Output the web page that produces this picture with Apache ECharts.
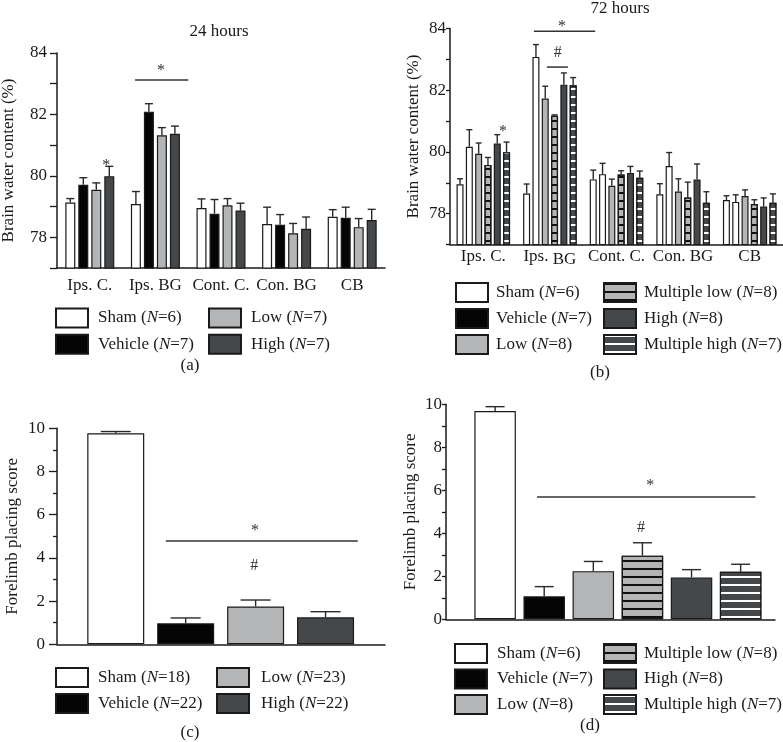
<!DOCTYPE html>
<html>
<head>
<meta charset="utf-8">
<script src="https://cdn.jsdelivr.net/npm/echarts@6/dist/echarts.min.js"></script>
<style>
html, body { margin: 0; padding: 0; background: #fff; }
#main { width: 783px; height: 742px; }
</style>
</head>
<body>
<div id="main"></div>
<script>
'use strict';
var FONT = '"Liberation Serif", serif';
var INK = '#1a1a1a';

// categories
var regions = ['Ips. C.', 'Ips. BG', 'Cont. C.', 'Con. BG', 'CB'];
var names24 = ['Sham (N=6)', 'Vehicle (N=7)', 'Low (N=7)', 'High (N=7)'];
var names72 = ['Sham (N=6)', 'Vehicle (N=7)', 'Low (N=8)', 'Multiple low (N=8)', 'High (N=8)', 'Multiple high (N=7)'];
var namesC = ['Sham (N=18)', 'Vehicle (N=22)', 'Low (N=23)', 'High (N=22)'];
var namesD = ['Sham (N=6)', 'Vehicle (N=7)', 'Low (N=8)', 'Multiple low (N=8)', 'High (N=8)', 'Multiple high (N=7)'];

// (a) brain water content, 24 hours (%)
var water24Sham    = [79.13, 79.08, 78.95, 78.43, 78.67];
var water24Vehicle = [79.71, 82.09, 78.77, 78.41, 78.64];
var water24Low     = [79.55, 81.32, 79.04, 78.13, 78.33];
var water24High    = [79.99, 81.37, 78.87, 78.28, 78.56];
var sem24Sham    = [0.13, 0.41, 0.30, 0.55, 0.23];
var sem24Vehicle = [0.23, 0.26, 0.46, 0.33, 0.34];
var sem24Low     = [0.22, 0.25, 0.22, 0.32, 0.28];
var sem24High    = [0.32, 0.25, 0.24, 0.38, 0.35];

// (b) brain water content, 72 hours (%)
var water72Sham      = [78.95, 78.65, 79.11, 78.63, 78.44];
var water72Vehicle   = [80.17, 83.08, 79.28, 79.54, 78.38];
var water72Low       = [79.94, 81.73, 78.90, 78.72, 78.57];
var water72MultiLow  = [79.58, 81.17, 79.27, 78.52, 78.31];
var water72High      = [80.27, 82.18, 79.32, 79.11, 78.23];
var water72MultiHigh = [79.99, 82.16, 79.16, 78.35, 78.35];
var sem72Sham      = [0.18, 0.31, 0.30, 0.34, 0.14];
var sem72Vehicle   = [0.55, 0.40, 0.35, 0.44, 0.23];
var sem72Low       = [0.35, 0.40, 0.22, 0.41, 0.20];
var sem72MultiLow  = [0.24, 0.03, 0.12, 0.50, 0.14];
var sem72High      = [0.29, 0.38, 0.21, 0.50, 0.28];
var sem72MultiHigh = [0.33, 0.25, 0.22, 0.36, 0.29];

// (c) and (d) forelimb placing score
var scoreC = [9.77, 0.97, 1.75, 1.25];
var semC   = [0.08, 0.25, 0.30, 0.26];
var scoreD = [9.69, 1.07, 2.24, 2.96, 1.95, 2.21];
var semD   = [0.20, 0.45, 0.45, 0.60, 0.36, 0.35];

// significance lines [from, to, y] and marks [x, y]
var sigLines24 = [[0.69, 1.50, 83.12]];
var sigMarks24 = [[1.085, 83.51], [0.25, 80.44]];
var sigText24  = ['*', '*'];
var sigLines72 = [[0.76, 1.68, 83.91], [0.955, 1.27, 82.75]];
var sigMarks72 = [[1.18, 84.16], [1.117, 83.2], [0.296, 80.75]];
var sigText72  = ['*', '#', '*'];
var sigLinesC = [[1.717, 4.46, 4.78]];
var sigMarksC = [[2.99, 5.4], [2.98, 3.62]];
var sigTextC  = ['*', '#'];
var sigLinesD = [[1.855, 6.30, 5.69]];
var sigMarksD = [[4.16, 6.33], [3.97, 4.25]];
var sigTextD  = ['*', '#'];

var myChart = echarts.init(document.getElementById('main'));

var GRAY = '#b4b5b7', DARK = '#45484a';
var fills = {
    white: { color: '#ffffff' },
    black: { color: '#050505' },
    gray: { color: GRAY },
    dark: { color: DARK },
    grayLined: { color: GRAY, decal: { symbol: 'rect', symbolSize: 1, dashArrayX: [1, 0], dashArrayY: [1.4, 5.3], color: '#111111' } },
    darkLined: { color: DARK, decal: { symbol: 'rect', symbolSize: 1, dashArrayX: [1, 0], dashArrayY: [1.4, 5.3], color: '#ffffff' } }
};
function barStyle(key) {
    var s = { borderColor: INK, borderWidth: 1.2 };
    for (var k in fills[key]) s[k] = fills[key][k];
    return s;
}

function errRows(vals, sems, slot, startX) {
    return vals.map(function (v, i) {
        return [i + startX, v, +(v + sems[i]).toFixed(2), slot];
    });
}

// error bars, up only, with a cap
function errorSeries(idx, step, n, cap, rows) {
    return {
        type: 'custom', xAxisIndex: idx, yAxisIndex: idx, silent: true, z: 4,
        encode: { x: 0, y: [1, 2] },
        data: rows,
        renderItem: function (params, api) {
            var b = api.coord([api.value(0), api.value(1)]);
            var t = api.coord([api.value(0), api.value(2)]);
            var x = b[0] + (api.value(3) - (n - 1) / 2) * step;
            var st = { stroke: '#2a2a2a', lineWidth: 1.4 };
            return {
                type: 'group', children: [
                    { type: 'line', shape: { x1: x, y1: b[1], x2: x, y2: t[1] }, style: st },
                    { type: 'line', shape: { x1: x - cap / 2, y1: t[1], x2: x + cap / 2, y2: t[1] }, style: st }
                ]
            };
        }
    };
}

// x position: category band fraction or plain value
function px(api, isCat, x, y) {
    if (isCat) {
        return [api.coord([0, y])[0] + x * api.size([1, 0])[0], api.coord([0, y])[1]];
    }
    return api.coord([x, y]);
}

function sigLineSeries(idx, isCat, lines) {
    return {
        type: 'custom', xAxisIndex: idx, yAxisIndex: idx, silent: true, z: 5,
        encode: { y: 3 },
        data: lines.map(function (l) { return [0, l[0], l[1], l[2]]; }),
        renderItem: function (params, api) {
            var p1 = px(api, isCat, api.value(1), api.value(3));
            var p2 = px(api, isCat, api.value(2), api.value(3));
            return { type: 'line', shape: { x1: p1[0], y1: p1[1], x2: p2[0], y2: p2[1] }, style: { stroke: '#333', lineWidth: 1.5 } };
        }
    };
}

function sigMarkSeries(idx, isCat, marks, texts) {
    return {
        type: 'custom', xAxisIndex: idx, yAxisIndex: idx, silent: true, z: 5,
        encode: { y: 2 },
        data: marks.map(function (m) { return [0, m[0], m[1]]; }),
        renderItem: function (params, api) {
            var p = px(api, isCat, api.value(1), api.value(2));
            var txt = texts[params.dataIndex];
            return {
                type: 'text', x: p[0], y: p[1] + (txt === '*' ? 3 : 0),
                style: { text: txt, align: 'center', verticalAlign: 'middle', fontFamily: FONT, fontSize: 16, fill: '#333' }
            };
        }
    };
}

function legendCol(names, left, top, gap, textGap) {
    return {
        data: names, orient: 'vertical', left: left, top: top, padding: 0,
        itemGap: gap, itemWidth: 32, itemHeight: 19, icon: 'rect', selectedMode: false,
        textStyle: {
            fontFamily: FONT, fontSize: 17, color: INK, lineHeight: 19, padding: [0, 0, 0, textGap],
            rich: { i: { fontFamily: FONT, fontSize: 17, fontStyle: 'italic', color: INK } }
        },
        formatter: function (n) { return n.replace('N=', '{i|N}='); }
    };
}

function label(text, x, y) {
    return { text: text, left: x, top: y, textAlign: 'center', padding: 0,
        textStyle: { fontFamily: FONT, fontSize: 17, fontWeight: 'normal', color: INK } };
}

var axisLine = { show: true, lineStyle: { color: INK, width: 1.5 } };
var tickFont = { fontFamily: FONT, fontSize: 17, color: INK };

function waterYAxis(idx, gap, tickLen, margin) {
    return {
        type: 'value', gridIndex: idx, min: 77, max: 84, interval: 1,
        name: 'Brain water content (%)', nameLocation: 'middle', nameGap: gap,
        nameTextStyle: tickFont,
        axisLine: axisLine, splitLine: { show: false },
        axisTick: { show: true, length: tickLen, lineStyle: { color: INK, width: 1.3 } },
        axisLabel: Object.assign({ margin: margin, formatter: function (v) { return v % 2 === 0 ? v : ''; } }, tickFont)
    };
}
function scoreYAxis(idx, gap, tickLen, margin) {
    return {
        type: 'value', gridIndex: idx, min: 0, max: 10, interval: 2,
        name: 'Forelimb placing score', nameLocation: 'middle', nameGap: gap,
        nameTextStyle: tickFont,
        axisLine: axisLine, splitLine: { show: false },
        axisTick: { show: true, length: tickLen, lineStyle: { color: INK, width: 1.3 } },
        minorTick: { show: true, splitNumber: 2, length: 4, lineStyle: { color: INK, width: 1.3 } },
        axisLabel: Object.assign({ margin: margin }, tickFont)
    };
}

var series = [];

// (a)
var sets24 = [water24Sham, water24Vehicle, water24Low, water24High];
var sems24 = [sem24Sham, sem24Vehicle, sem24Low, sem24High];
var look24 = ['white', 'black', 'gray', 'dark'];
var rows24 = [];
sets24.forEach(function (vals, k) {
    series.push({ name: names24[k], type: 'bar', xAxisIndex: 0, yAxisIndex: 0, barWidth: 10, barGap: '30%',
        itemStyle: barStyle(look24[k]), data: vals });
    rows24 = rows24.concat(errRows(vals, sems24[k], k, 0));
});

// (b) - vehicle bars are drawn white in the original figure
var sets72 = [water72Sham, water72Vehicle, water72Low, water72MultiLow, water72High, water72MultiHigh];
var sems72 = [sem72Sham, sem72Vehicle, sem72Low, sem72MultiLow, sem72High, sem72MultiHigh];
var look72 = ['white', 'white', 'gray', 'grayLined', 'dark', 'darkLined'];
var rows72 = [];
sets72.forEach(function (vals, k) {
    series.push({ name: names72[k], type: 'bar', xAxisIndex: 1, yAxisIndex: 1, barWidth: 7, barGap: '33%',
        itemStyle: barStyle(look72[k]), data: vals });
    rows72 = rows72.concat(errRows(vals, sems72[k], k, 0));
});

// (c)
var lookC = ['white', 'black', 'gray', 'dark'];
var rowsC = [];
scoreC.forEach(function (v, k) {
    series.push({ name: namesC[k], type: 'bar', xAxisIndex: 2, yAxisIndex: 2, barWidth: 57, barGap: '-100%',
        itemStyle: barStyle(lookC[k]), data: [[k + 1, v]] });
    rowsC.push([k + 1, v, +(v + semC[k]).toFixed(2), 0]);
});

// (d)
var lookD = ['white', 'black', 'gray', 'grayLined', 'dark', 'darkLined'];
var rowsD = [];
scoreD.forEach(function (v, k) {
    series.push({ name: namesD[k], type: 'bar', xAxisIndex: 3, yAxisIndex: 3, barWidth: 41.5, barGap: '-100%',
        itemStyle: barStyle(lookD[k]), data: [[k + 1, v]] });
    rowsD.push([k + 1, v, +(v + semD[k]).toFixed(2), 0]);
});

series.push(errorSeries(0, 13, 4, 8, rows24));
series.push(errorSeries(1, 9.3, 6, 6, rows72));
series.push(errorSeries(2, 0, 1, 30, rowsC));
series.push(errorSeries(3, 0, 1, 19, rowsD));
series.push(sigLineSeries(0, true, sigLines24), sigMarkSeries(0, true, sigMarks24, sigText24));
series.push(sigLineSeries(1, true, sigLines72), sigMarkSeries(1, true, sigMarks72, sigText72));
series.push(sigLineSeries(2, false, sigLinesC), sigMarkSeries(2, false, sigMarksC, sigTextC));
series.push(sigLineSeries(3, false, sigLinesD), sigMarkSeries(3, false, sigMarksD, sigTextD));

var option = {
    animation: false,
    title: [
        label('24 hours', 219, 23),
        label('72 hours', 620, 0),
        label('(a)', 190, 357),
        label('(b)', 600, 364),
        label('(c)', 190, 724),
        label('(d)', 590, 717)
    ],
    grid: [
        { left: 57, top: 53, width: 328, height: 215, outerBoundsMode: 'none' },
        { left: 450, top: 28.5, width: 333, height: 216, outerBoundsMode: 'none' },
        { left: 57, top: 428.3, width: 328, height: 216, outerBoundsMode: 'none' },
        { left: 446, top: 404.3, width: 329, height: 215, outerBoundsMode: 'none' }
    ],
    xAxis: [
        { type: 'category', gridIndex: 0, data: regions, axisLine: axisLine, axisTick: { show: false },
          axisLabel: Object.assign({ margin: 9, interval: 0, hideOverlap: false }, tickFont) },
        { type: 'category', gridIndex: 1, data: regions, axisLine: axisLine, axisTick: { show: false },
          axisLabel: Object.assign({ margin: 4, interval: 0, hideOverlap: false,
              formatter: function (v) { return v === 'Ips. BG' ? '{t|Ips. }{s|BG}' : '{t|' + v + '}'; },
              rich: {
                  t: { fontFamily: FONT, fontSize: 17, color: INK, verticalAlign: 'top' },
                  s: { fontFamily: FONT, fontSize: 17, color: INK, verticalAlign: 'top', padding: [3, 0, 0, 0] }
              } }, tickFont) },
        { type: 'value', gridIndex: 2, min: 0.16, max: 4.85, axisLine: axisLine, axisTick: { show: false },
          axisLabel: { show: false }, splitLine: { show: false } },
        { type: 'value', gridIndex: 3, min: 0, max: 6.7, axisLine: axisLine, axisTick: { show: false },
          axisLabel: { show: false }, splitLine: { show: false } }
    ],
    yAxis: [
        waterYAxis(0, 40, 7, 10),
        waterYAxis(1, 28, 4, 4),
        scoreYAxis(2, 36, 8, 12),
        scoreYAxis(3, 27, 4, 4)
    ],
    legend: [
        legendCol([names24[0], names24[1]], 55, 307.5, 5.3, 5),
        legendCol([names24[2], names24[3]], 208, 307.5, 5.3, 5),
        legendCol([names72[0], names72[1], names72[2]], 455, 282, 5, 3),
        legendCol([names72[3], names72[4], names72[5]], 603, 282, 5, 3),
        legendCol([namesC[0], namesC[1]], 55, 667, 5, 5),
        legendCol([namesC[2], namesC[3]], 216, 667, 5, 7),
        legendCol([namesD[0], namesD[1], namesD[2]], 454, 643, 4.5, 5),
        legendCol([namesD[3], namesD[4], namesD[5]], 603, 643, 4.5, 3)
    ],
    series: series
};
myChart.setOption(option);
</script>
</body>
</html>
